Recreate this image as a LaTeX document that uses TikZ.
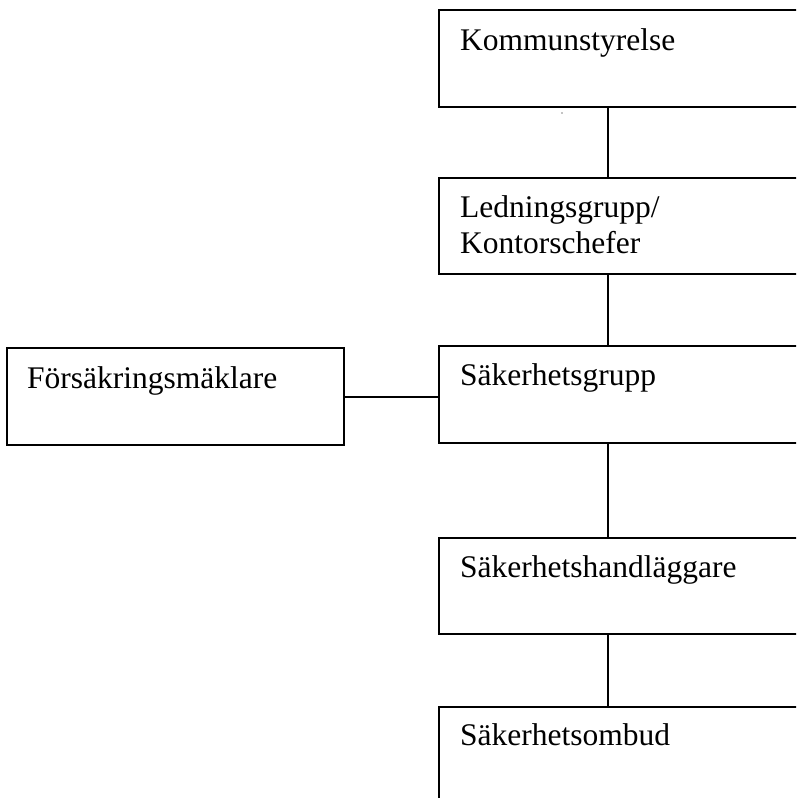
\documentclass[tikz,border=0pt]{standalone}
\usepackage{fontspec}
\setmainfont{Liberation Serif}
\usetikzlibrary{calc}
\begin{document}
\begin{tikzpicture}[x=1pt,y=-1pt,
  box/.style={rectangle, anchor=north west, inner sep=0pt, outer sep=0pt, minimum width=420pt},
  edge3/.style={line width=2pt, line join=miter},
  txt/.style={anchor=base west, inner sep=0pt, font=\fontsize{31.5}{36}\selectfont},
  link/.style={line width=2pt}]
\useasboundingbox (0,0) rectangle (796,798);
\clip (0,0) rectangle (796,798);
\node[box, minimum height=97pt] (k) at (439,10) {};
\node[box, minimum height=96pt] (l) at (439,178) {};
\node[box, minimum height=97pt] (sg) at (439,346) {};
\node[box, draw=black, line width=2pt, minimum height=97pt, minimum width=337pt] (f) at (7,348) {};
\node[box, minimum height=96pt] (sh) at (439,538) {};
\node[box, minimum height=130pt] (so) at (439,707) {};
\foreach \b in {k,l,sg,sh,so}
  \draw[edge3] (\b.north east) -- (\b.north west) -- (\b.south west) -- (\b.south east);
\node[txt] (tk) at ($(k.north west)+(21,40)$) {Kommunstyrelse};
\node[txt] (tl1) at ($(l.north west)+(21,39)$) {Ledningsgrupp/};
\node[txt] (tl2) at ($(l.north west)+(21,75)$) {Kontorschefer};
\node[txt] (tsg) at ($(sg.north west)+(21,39)$) {Säkerhetsgrupp};
\node[txt] (tf) at ($(f.north west)+(20,40)$) {Försäkringsmäklare};
\node[txt] (tsh) at ($(sh.north west)+(21,39)$) {Säkerhetshandläggare};
\node[txt] (tso) at ($(so.north west)+(21,38)$) {Säkerhetsombud};
\coordinate (cx) at (608,0);
\draw[link] (k.south -| cx) -- (l.north -| cx);
\draw[link] (l.south -| cx) -- (sg.north -| cx);
\draw[link] (sg.south -| cx) -- (sh.north -| cx);
\draw[link] (sh.south -| cx) -- (so.north -| cx);
\draw[link] (f.east) -- (sg.west |- f.east);
\fill (562,113) circle (0.7pt);
\end{tikzpicture}
\end{document}
